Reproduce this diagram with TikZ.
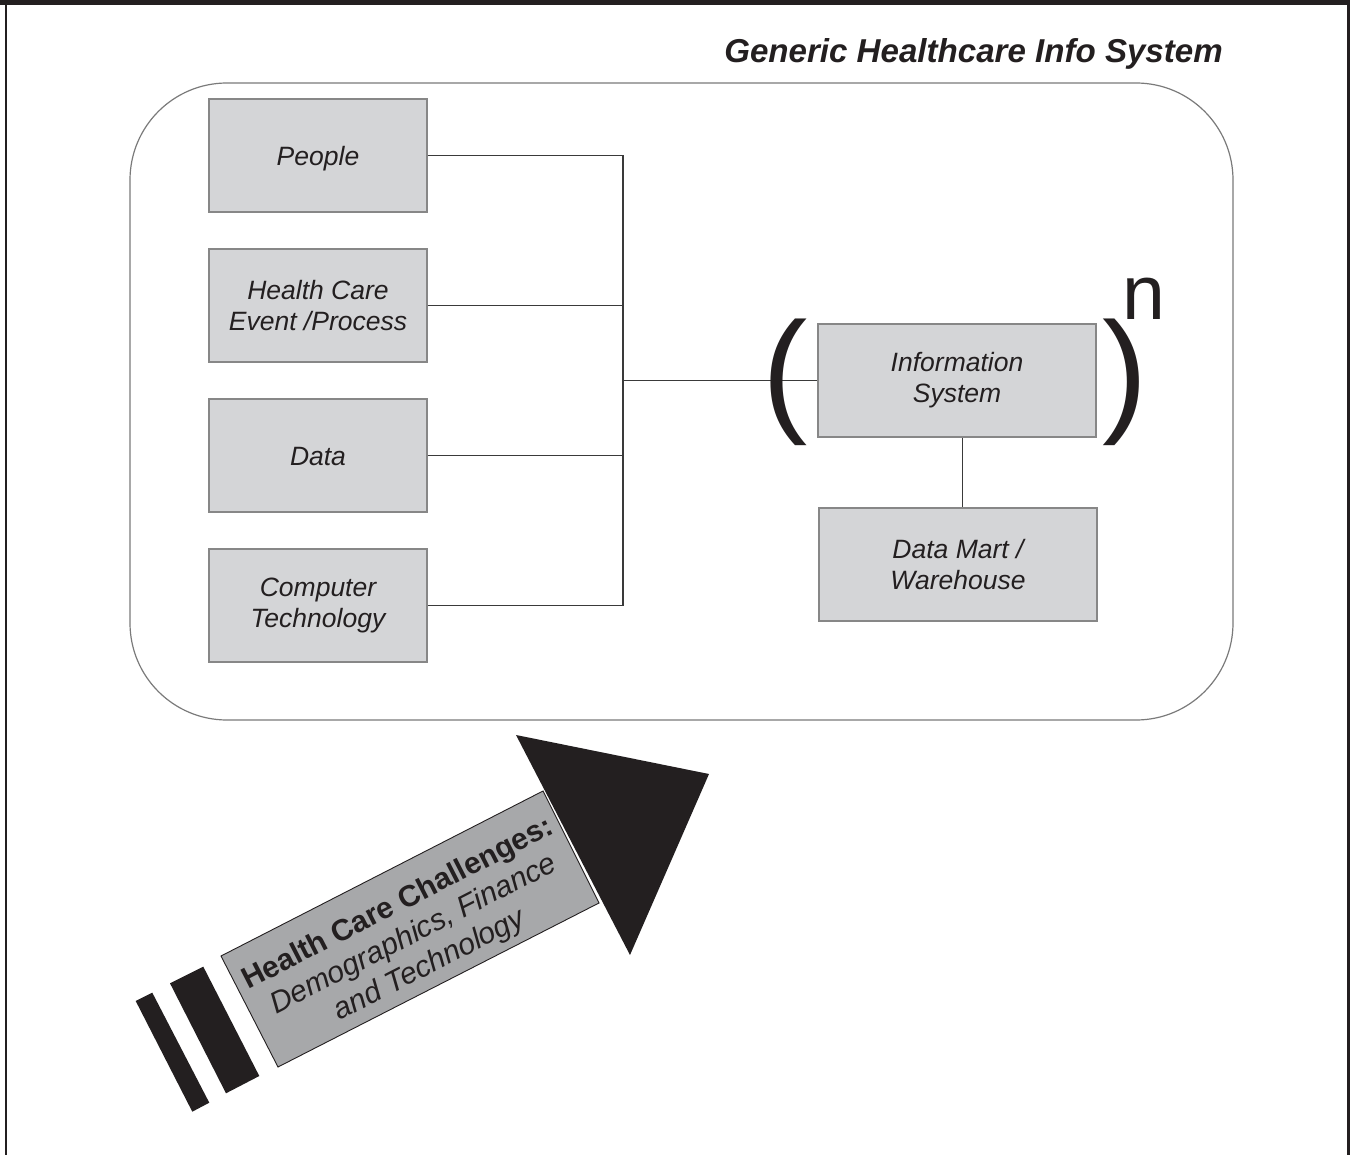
\documentclass[tikz,border=0pt]{standalone}
\usepackage{fontspec}
\setmainfont{Liberation Sans}
\definecolor{ink}{HTML}{231F20}
\definecolor{boxfill}{HTML}{D4D5D7}
\definecolor{boxborder}{HTML}{878787}
\definecolor{wirecol}{HTML}{3A3A3A}
\definecolor{contgray}{HTML}{7A7A7A}
\definecolor{bodygray}{HTML}{A7A8AA}
\begin{document}
\begin{tikzpicture}[x=1pt,y=-1pt,
  box/.style={draw=boxborder, fill=boxfill, line width=1.3pt, minimum width=218pt,
    minimum height=113pt, inner sep=0pt, align=center, text=ink,
    font=\fontsize{26.5}{31}\selectfont\itshape},
  onebox/.style={box, text height=26pt, text depth=5.5pt},
  wire/.style={draw=wirecol, line width=1.2pt},
  bigglyph/.style={inner sep=0pt, anchor=base, text=ink}]
\useasboundingbox (0,0) rectangle (1350,1155);
\fill[white] (0,0) rectangle (1350,1155);
% frame
\fill[ink] (0,0) rectangle (1350,5);
\fill[ink] (5,0) rectangle (7,1155);
\fill[ink] (1347,0) rectangle (1350,1155);
% title
\node[inner sep=0pt, anchor=base east, text=ink,
  font=\fontsize{33.1}{36}\selectfont\bfseries\itshape] (title) at (1223,63)
  {Generic Healthcare Info System};
% container
\node[draw=contgray, line width=1.2pt, rounded corners=97pt, minimum width=1103pt,
  minimum height=637pt, inner sep=0pt] (container) at (681.5,401.5) {};
% left boxes
\node[onebox] (people) at (318,155.5) {People};
\node[box] (hce) at (318,305.5) {Health Care\\Event /Process};
\node[onebox] (data) at (318,455.5) {Data};
\node[box] (comp) at (318,605.5) {Computer\\Technology};
% right boxes
\node[box, minimum width=278pt] (info) at (957,380.5) {Information\\System};
\node[box, minimum width=278pt] (dm) at (958,564.5) {Data Mart /\\Warehouse};
% connectors
\coordinate (j) at (623,380.5);
\draw[wire] (people.east) -- (people.east -| j) -- (comp.east -| j) -- (comp.east);
\draw[wire] (hce.east) -- (hce.east -| j);
\draw[wire] (data.east) -- (data.east -| j);
\draw[wire] (j) -- (info.west);
\draw[wire] ([xshift=5.5pt]info.south) -- ([xshift=5.5pt]info.south |- dm.north);
% parentheses and exponent
\node[bigglyph, font=\fontsize{136}{140}\selectfont] (lp) at (785,417.5) {(};
\node[bigglyph, font=\fontsize{136}{140}\selectfont] (rp) at (1125,417.5) {)};
\node[bigglyph, font=\fontsize{77}{80}\selectfont] (expn) at (1144,320) {n};
% challenge arrow
\fill[ink] (135.7,1001) -- (152.3,992.7) -- (209.3,1102.7) -- (192.3,1111.7) -- cycle;
\fill[ink] (170,983.3) -- (203.3,966.7) -- (259.3,1076) -- (226,1093.3) -- cycle;
\filldraw[fill=bodygray, draw=ink, line width=0.9pt]
  (221,956) -- (543,791) -- (599,903) -- (278,1067) -- cycle;
\fill[ink] (516,735) -- (709,774) -- (630,955) -- cycle;
\node[rotate=27.13, align=center, text=ink, inner sep=0pt,
  font=\fontsize{30}{34.5}\selectfont] (challenges) at (414,935)
  {{\bfseries Health Care Challenges:}\\{\itshape Demographics, Finance}\\{\itshape and Technology}};
\end{tikzpicture}
\end{document}
